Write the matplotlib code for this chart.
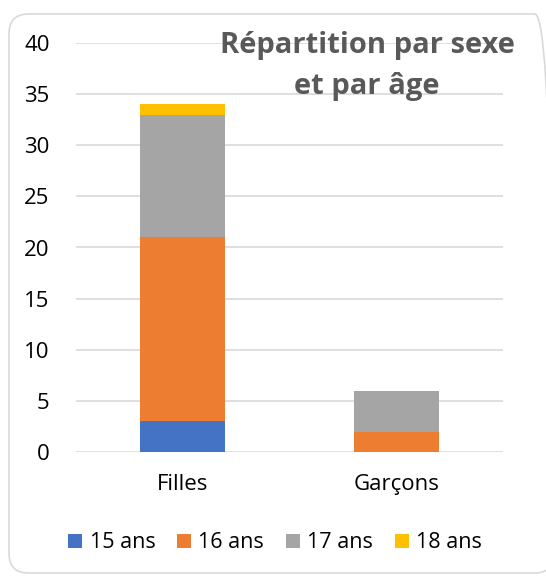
import numpy as np
import matplotlib.pyplot as plt
from matplotlib.patches import FancyBboxPatch

# data
categories = ['Filles', 'Garçons']
ages = ['15 ans', '16 ans', '17 ans', '18 ans']
age_15 = [3, 0]
age_16 = [18, 2]
age_17 = [12, 4]
age_18 = [1, 0]
colors = ['#4472C4', '#ED7D31', '#A5A5A5', '#FFC000']

W, H = 546, 576
fig = plt.figure(figsize=(W/100, H/100), dpi=100)
plt.rcParams['font.family'] = ['Open Sans', 'DejaVu Sans']

# rounded chart border
frame = FancyBboxPatch((9/W, 3/H), 545/W, 559/H,
                       boxstyle='round,pad=0,rounding_size=0.035',
                       transform=fig.transFigure, fill=False,
                       edgecolor='#D9D9D9', linewidth=1.2)
fig.patches.append(frame)

ax = fig.add_axes([76/W, 1-452/H, 427/W, 409/H])
x = np.arange(len(categories))
bottom = np.zeros(len(categories))
for vals, lab, c in zip([age_15, age_16, age_17, age_18], ages, colors):
    ax.bar(x, vals, width=0.4, bottom=bottom, color=c, label=lab, zorder=3)
    bottom += np.array(vals)

ax.set_xlim(-0.5, 1.5)
ax.set_ylim(0, 40)
ax.set_yticks(range(0, 41, 5))
ax.set_xticks(x)
ax.set_xticklabels(categories)
ax.grid(axis='y', color='#D9D9D9', linewidth=1.2, zorder=0)
for s in ax.spines.values():
    s.set_visible(False)
ax.tick_params(length=0, labelsize=16, colors='black')
ax.tick_params(axis='y', pad=19)
ax.tick_params(axis='x', pad=16)

fig.text(367/W, 1-66/H, 'Répartition par sexe\net par âge', ha='center',
         va='center', fontsize=21, fontweight='bold', color='#595959',
         linespacing=1.55)

fig.legend(loc='center', bbox_to_anchor=(275/W, 1-543/H), ncol=4, frameon=False,
           fontsize=15.5, handlelength=0.65, handleheight=0.65, handletextpad=0.35,
           columnspacing=1.0)

fig.savefig('out.png', dpi=100)
